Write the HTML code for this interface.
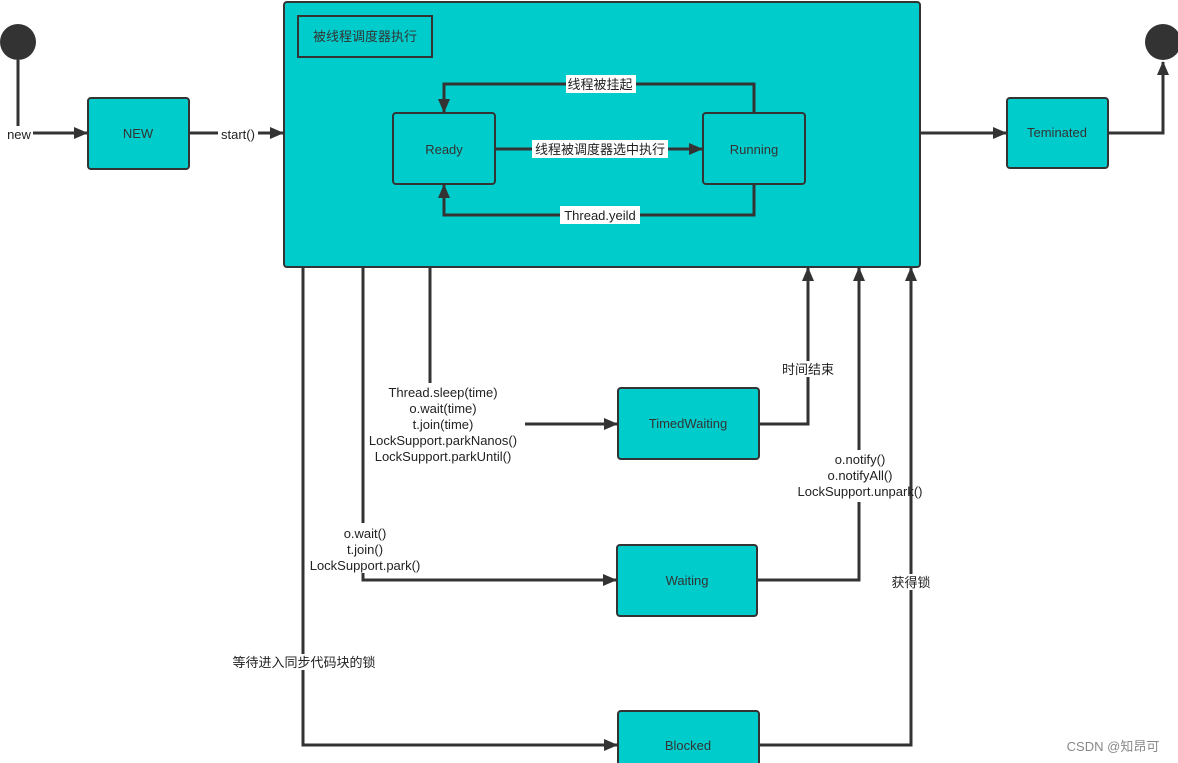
<!DOCTYPE html>
<html><head><meta charset="utf-8"><style>
html,body{margin:0;padding:0;background:#fff;}
svg{display:block;font-family:"Liberation Sans","Noto Sans CJK SC",sans-serif;}
</style></head><body>
<svg width="1178" height="763" viewBox="0 0 1178 763" xmlns="http://www.w3.org/2000/svg">
<defs>
<marker id="b" markerWidth="14" markerHeight="12" refX="13" refY="6" orient="auto" markerUnits="userSpaceOnUse">
<path d="M0,0 L14,6 L0,12 z" fill="#333"/></marker>
</defs>
<g fill="#00CCCC" stroke="#333" stroke-width="2">
<rect x="284" y="2" width="636" height="265" rx="3"/>
<rect x="298" y="16" width="134" height="41" stroke-width="2"/>
<rect x="393" y="113" width="102" height="71" rx="3"/>
<rect x="703" y="113" width="102" height="71" rx="3"/>
<rect x="88" y="98" width="101" height="71" rx="3"/>
<rect x="1007" y="98" width="101" height="70" rx="3"/>
<rect x="618" y="388" width="141" height="71" rx="3"/>
<rect x="617" y="545" width="140" height="71" rx="3"/>
<rect x="618" y="711" width="141" height="71" rx="3"/>
</g>
<circle cx="18" cy="42" r="18" fill="#333"/>
<circle cx="1163" cy="42" r="18" fill="#333"/>
<g fill="none" stroke="#333" stroke-width="3">
<path d="M754,113 V84 H444 V112" marker-end="url(#b)"/>
<path d="M495,149 H702" marker-end="url(#b)"/>
<path d="M754,184 V215 H444 V185" marker-end="url(#b)"/>
<path d="M18,60 V133 H87" marker-end="url(#b)"/>
<path d="M189,133 H283" marker-end="url(#b)"/>
<path d="M920,133 H1006" marker-end="url(#b)"/>
<path d="M1108,133 H1163 V62" marker-end="url(#b)"/>
<path d="M303,267 V745 H617" marker-end="url(#b)"/>
<path d="M363,267 V580 H616" marker-end="url(#b)"/>
<path d="M430,267 V383"/>
<path d="M525,424 H617" marker-end="url(#b)"/>
<path d="M759,424 H808 V268" marker-end="url(#b)"/>
<path d="M757,580 H859 V268" marker-end="url(#b)"/>
<path d="M759,745 H911 V268" marker-end="url(#b)"/>
</g>
<g font-size="13" fill="#333" text-anchor="middle">
<text x="365" y="41">被线程调度器执行</text>
<text x="444" y="154">Ready</text>
<text x="754" y="154">Running</text>
<text x="138" y="138">NEW</text>
<text x="1057" y="137">Teminated</text>
<text x="688" y="428">TimedWaiting</text>
<text x="687" y="585">Waiting</text>
<text x="688" y="750">Blocked</text>
</g>
<g fill="#fff">
<rect x="566" y="75" width="70" height="18"/>
<rect x="532" y="140" width="136" height="18"/>
<rect x="560" y="206" width="80" height="18"/>
<rect x="5" y="126" width="28" height="16"/>
<rect x="218" y="126" width="40" height="16"/>
<rect x="782" y="361" width="54" height="16"/>
<rect x="891" y="574" width="40" height="16"/>
<rect x="290" y="654" width="28" height="16"/>
<rect x="305" y="523" width="120" height="50"/>
<rect x="795" y="450" width="112" height="52"/>
</g>
<g font-size="13" fill="#222" text-anchor="middle">
<text x="600" y="89">线程被挂起</text>
<text x="600" y="154">线程被调度器选中执行</text>
<text x="600" y="220">Thread.yeild</text>
<text x="19" y="139">new</text>
<text x="238" y="139">start()</text>
<text x="808" y="374">时间结束</text>
<text x="911" y="587">获得锁</text>
<text x="304" y="667">等待进入同步代码块的锁</text>
<text x="443" y="397">Thread.sleep(time)</text>
<text x="443" y="413">o.wait(time)</text>
<text x="443" y="429">t.join(time)</text>
<text x="443" y="445">LockSupport.parkNanos()</text>
<text x="443" y="461">LockSupport.parkUntil()</text>
<text x="365" y="538">o.wait()</text>
<text x="365" y="554">t.join()</text>
<text x="365" y="570">LockSupport.park()</text>
<text x="860" y="464">o.notify()</text>
<text x="860" y="480">o.notifyAll()</text>
<text x="860" y="496">LockSupport.unpark()</text>
<text x="1113" y="751" fill="#888">CSDN @知昂可</text>
</g>
</svg>
</body></html>
